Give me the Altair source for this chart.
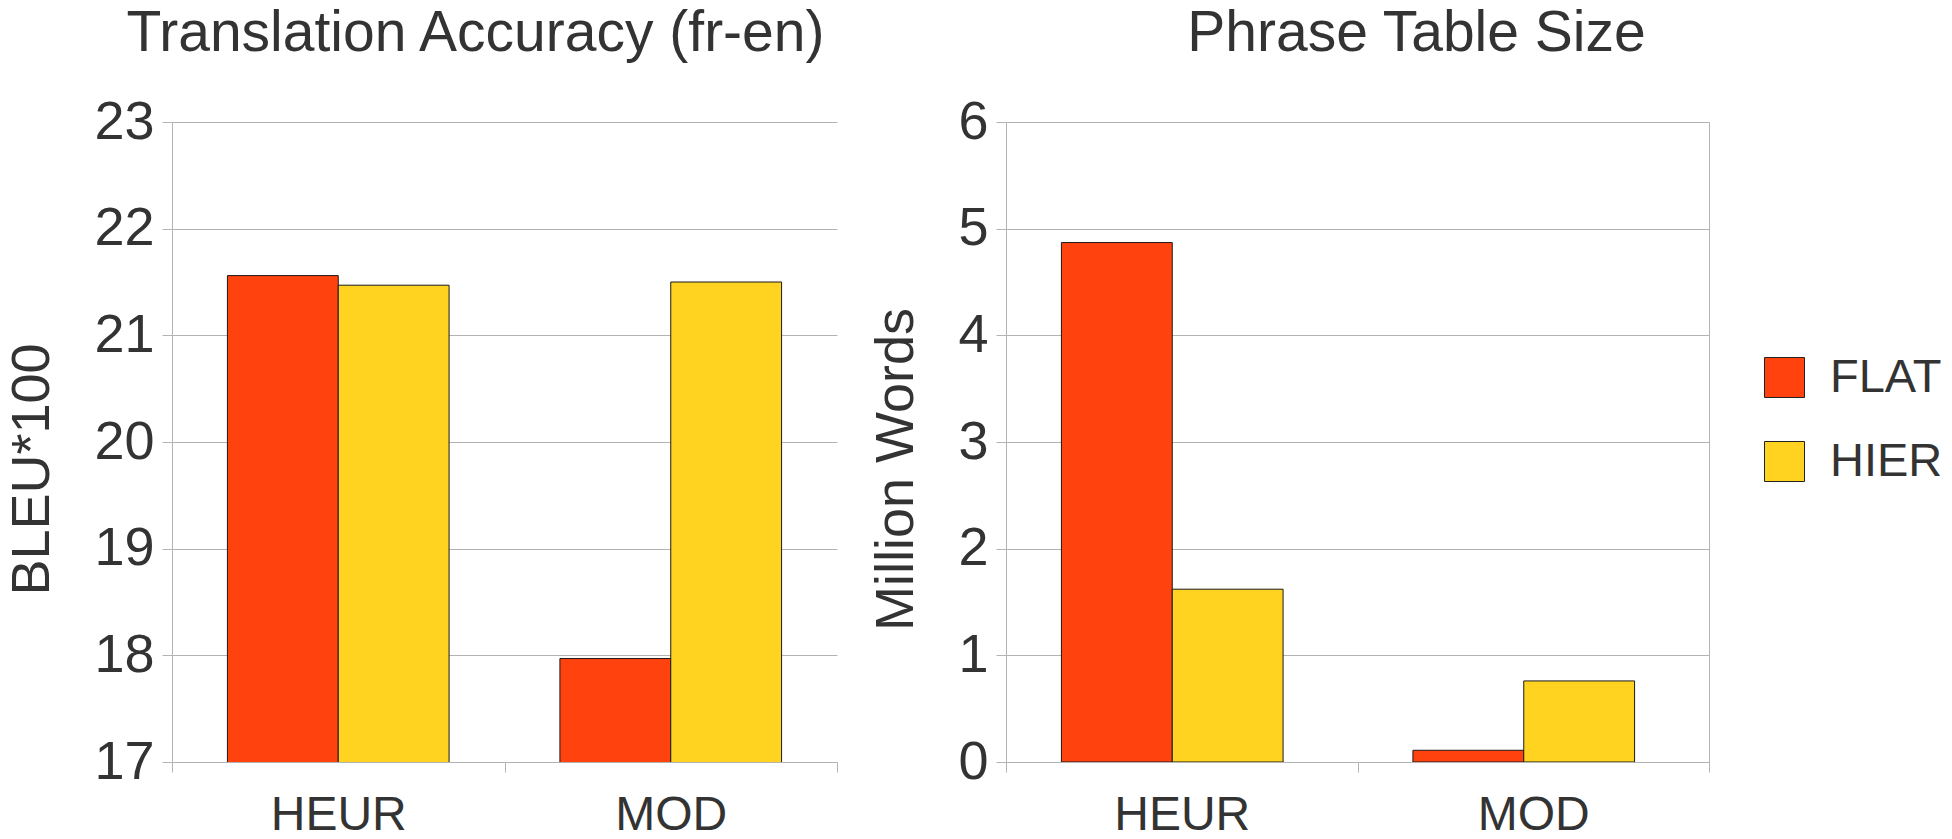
import altair as alt
import pandas as pd

categories = ["HEUR", "MOD"]
series = ["FLAT", "HIER"]
bleu_flat = [21.56, 17.97]
bleu_hier = [21.47, 21.50]
size_flat = [4.87, 0.11]
size_hier = [1.62, 0.76]
colors = ["#ff420e", "#ffd320"]

def table(flat, hier):
    rows = []
    for i, c in enumerate(categories):
        rows.append({"cat": c, "series": "FLAT", "value": flat[i]})
        rows.append({"cat": c, "series": "HIER", "value": hier[i]})
    return pd.DataFrame(rows)

FONT = "Liberation Sans"
TXT = "#333333"
GRID = "#b3b3b3"

def color_enc(show):
    if show:
        leg = alt.Legend(
            title=None, orient="none", legendX=755, legendY=232, padding=0,
            symbolType="square", symbolSize=1600, symbolStrokeColor="#222222",
            symbolStrokeWidth=1, symbolOpacity=1, labelFontSize=47, labelFont=FONT,
            labelColor=TXT, labelOffset=22, rowPadding=36,
        )
    else:
        leg = None
    return alt.Color("series:N", scale=alt.Scale(domain=series, range=colors),
                     legend=leg)

def xenc():
    return alt.X(
        "cat:N", sort=categories, title=None,
        scale=alt.Scale(paddingInner=0, paddingOuter=0),
        axis=alt.Axis(
            labelAngle=0, labelFontSize=48, labelFont=FONT, labelColor=TXT,
            tickBand="extent", ticks=True, tickSize=10, tickColor=GRID,
            domainColor=GRID, labelPadding=19, grid=False,
        ),
    )

def panel(df, domain, ytitle, title, dx, width, stroke, show_legend):
    return alt.Chart(df).mark_bar(stroke="#1a1a1a", strokeWidth=1, clip=True).encode(
        x=xenc(),
        xOffset=alt.XOffset("series:N", sort=series,
                            scale=alt.Scale(paddingInner=0, paddingOuter=0.5)),
        y=alt.Y(
            "value:Q", title=ytitle,
            scale=alt.Scale(domain=domain, nice=False, zero=False),
            axis=alt.Axis(
                values=list(range(domain[0], domain[1] + 1)),
                labelFontSize=54, labelFont=FONT, labelColor=TXT,
                titleFontSize=54, titleFont=FONT, titleColor=TXT,
                titleFontWeight="normal", titlePadding=34, titleY=347,
                tickSize=10, tickColor=GRID, domainColor=GRID,
                gridColor=GRID, labelPadding=8,
            ),
        ),
        color=color_enc(show_legend),
    ).properties(
        width=width, height=640,
        view=alt.ViewBackground(stroke=stroke),
        title=alt.TitleParams(title, fontSize=57, font=FONT, color=TXT,
                              fontWeight="normal", anchor="middle",
                              frame="group", dx=dx, offset=32),
    )

left = panel(table(bleu_flat, bleu_hier), [17, 23], "BLEU*100",
             "Translation Accuracy (fr-en)", -29, 665, "transparent", False)
right = panel(table(size_flat, size_hier), [0, 6], "Million Words",
              "Phrase Table Size", 59, 703, GRID, True)

chart = alt.hconcat(left, right, spacing=31).resolve_scale(
    color="independent"
).resolve_legend(color="independent").properties(
    padding={"left": 5, "top": 4, "right": 5, "bottom": 0}
)

chart.save("out.html", embed_options={"renderer": "svg", "actions": False})
